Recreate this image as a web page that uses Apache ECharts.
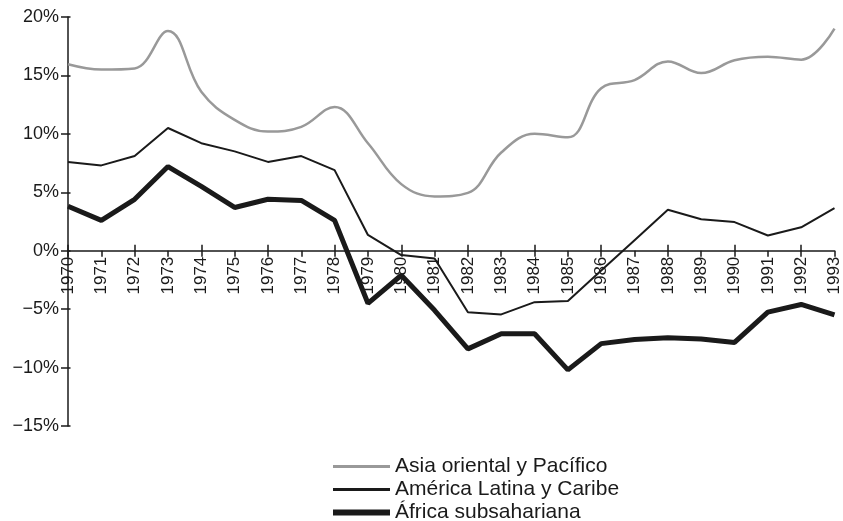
<!DOCTYPE html>
<html>
<head>
<meta charset="utf-8">
<script src="https://cdn.jsdelivr.net/npm/echarts@6/dist/echarts.min.js"></script>
<style>
html,body{margin:0;padding:0;background:#fff;}
#chart{width:843px;height:521px;}
</style>
</head>
<body>
<div id="chart"></div>
<script>
const years = ['1970','1971','1972','1973','1974','1975','1976','1977','1978','1979','1980','1981','1982','1983','1984','1985','1986','1987','1988','1989','1990','1991','1992','1993'];
const asia = [15.95,15.5,15.6,18.8,13.6,11.2,10.2,10.6,12.3,9.2,5.7,4.65,4.95,8.4,10.0,9.7,13.9,14.6,16.2,15.2,16.3,16.6,16.35,19.0];
const america = [7.6,7.3,8.1,10.5,9.2,8.5,7.6,8.1,6.9,1.35,-0.37,-0.66,-5.26,-5.45,-4.4,-4.3,-1.7,0.9,3.5,2.7,2.45,1.3,2.0,3.65];
const africa = [3.8,2.6,4.4,7.2,5.5,3.7,4.4,4.3,2.6,-4.5,-2.1,-5.1,-8.4,-7.1,-7.1,-10.2,-7.95,-7.6,-7.45,-7.55,-7.85,-5.25,-4.6,-5.5];
const seriesNames = ['Asia oriental y Pacífico','América Latina y Caribe','África subsahariana'];
const yMin = -15, yMax = 20, yStep = 5;

const FONT = '"Liberation Sans", Arial, sans-serif';
const W = 843, H = 521;
const G = {left:68, right:6, top:17, bottom:95};
const gridW = W - G.left - G.right;
const gridH = H - G.top - G.bottom;
const zeroFromBottom = gridH * (0 - yMin) / (yMax - yMin);
const zeroFromTop = gridH - zeroFromBottom;

const chart = echarts.init(document.getElementById('chart'), null, {renderer:'canvas'});
const axisColor = '#1a1a1a';
chart.setOption({
  animation:false,
  backgroundColor:'#fff',
  grid:{left:G.left,right:G.right,top:G.top,bottom:G.bottom,containLabel:false},
  legend:{
    orient:'vertical', left:333, top:456, height:100, padding:0,
    itemWidth:57, itemHeight:14, itemGap:2, symbolKeepAspect:true,
    textStyle:{fontFamily:FONT,fontSize:21,color:'#1a1a1a',lineHeight:20.5},
    data:[
      {name:seriesNames[0], icon:'path://M0,0H57V3H0Z', itemStyle:{color:'#999999'}},
      {name:seriesNames[1], icon:'path://M0,0H57V3H0Z', itemStyle:{color:'#1a1a1a'}},
      {name:seriesNames[2], icon:'path://M0,0H57V6H0Z', itemStyle:{color:'#1a1a1a'}}
    ]
  },
  xAxis:[{
    type:'category', data:years, boundaryGap:false, position:'bottom', offset:-zeroFromBottom,
    axisLine:{onZero:false,lineStyle:{color:axisColor,width:1.5}},
    axisTick:{show:true,length:6,lineStyle:{color:axisColor,width:1.5}},
    axisLabel:{rotate:90,margin:6,fontFamily:FONT,fontSize:17,color:'#1a1a1a',interval:0},
    splitLine:{show:false}
  },{
    type:'category', data:years, boundaryGap:false, position:'top', offset:-zeroFromTop,
    axisLine:{show:false,onZero:false},
    axisTick:{show:true,length:6,lineStyle:{color:axisColor,width:1.5}},
    axisLabel:{show:false},
    splitLine:{show:false}
  }],
  yAxis:[{
    type:'value', min:yMin, max:yMax, interval:yStep,
    axisLine:{show:true,lineStyle:{color:axisColor,width:1.5}},
    axisTick:{show:true,length:7,lineStyle:{color:axisColor,width:1.5}},
    axisLabel:{margin:9,fontFamily:FONT,fontSize:18,color:'#1a1a1a',
      formatter:v=>(v<0?'\u2212'+(-v):v)+'%'},
    splitLine:{show:false}
  },{
    type:'value', min:yMin, max:yMax, interval:yStep, position:'right', offset:-gridW,
    axisLine:{show:false},
    axisTick:{show:true,length:5,lineStyle:{color:axisColor,width:1.5}},
    axisLabel:{show:false},
    splitLine:{show:false}
  }],
  series:[
    {name:seriesNames[0], type:'line', data:asia, smooth:0.4, symbol:'none',
     lineStyle:{color:'#999999',width:2.5}, itemStyle:{color:'#999999'}},
    {name:seriesNames[1], type:'line', data:america, symbol:'none',
     lineStyle:{color:'#1a1a1a',width:2}, itemStyle:{color:'#1a1a1a'}},
    {name:seriesNames[2], type:'line', data:africa, symbol:'none',
     lineStyle:{color:'#1a1a1a',width:5}, itemStyle:{color:'#1a1a1a'}}
  ]
});
</script>
</body>
</html>
